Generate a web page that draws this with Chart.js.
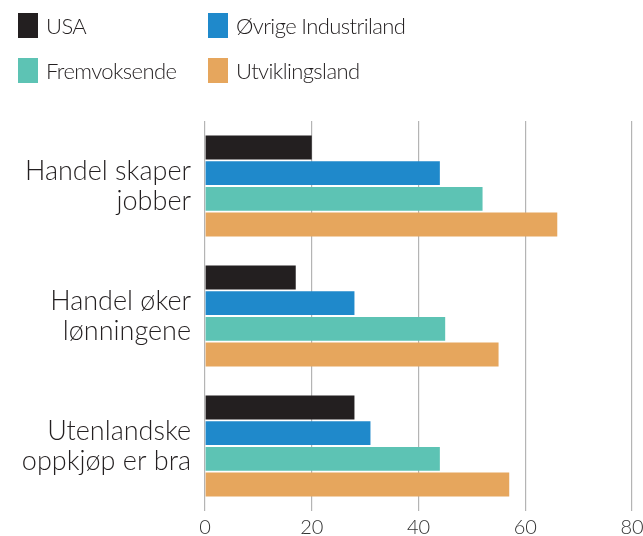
<!DOCTYPE html>
<html>
<head>
<meta charset="utf-8">
<script src="https://cdn.jsdelivr.net/npm/chart.js@4.4.0/dist/chart.umd.min.js"></script>
<style>
	body{margin:0;background:#fff;overflow:hidden;}
	.wrap{position:relative;width:643px;height:536px;}
	#chart{position:absolute;left:0;top:0;}
	.leg{position:absolute;font-family:Lato,"Noto Sans",sans-serif;font-weight:300;font-size:22px;letter-spacing:-0.6px;color:#231f20;line-height:25px;white-space:nowrap;}
	.leg span{display:inline-block;width:20px;height:25px;vertical-align:top;margin-right:8px;}
</style>
</head>
<body>
<div class="wrap">
	<canvas id="chart" width="643" height="536"></canvas>
	<div id="legend"></div>
</div>
<script>
var categories = [
	['Handel skaper', 'jobber'],
	['Handel øker', 'lønningene'],
	['Utenlandske', 'oppkjøp er bra']
];
var seriesNames = ['USA', 'Øvrige Industriland', 'Fremvoksende', 'Utviklingsland'];
var seriesColors = ['#231f20', '#1f89cb', '#5dc3b4', '#e6a65d'];
var usa = [20, 17, 28];
var ovrige = [44, 28, 31];
var fremvoksende = [52, 45, 44];
var utvikling = [66, 55, 57];
var xTicks = [0, 20, 40, 60, 80];

var values = [usa, ovrige, fremvoksende, utvikling];

// legend in two columns, html
var legPos = [[18, 13], [208, 13], [18, 58], [208, 58]];
var html = '';
for (var i = 0; i < seriesNames.length; i++) {
	html +=
	'<div class="leg" style="left:' + legPos[i][0] + 'px;top:' + legPos[i][1] + 'px;">' +
		'<span style="background:' + seriesColors[i] + ';"></span>' + seriesNames[i] +
	'</div>';
}
document.getElementById('legend').innerHTML = html;

var datasets = [];
for (var i = 0; i < seriesNames.length; i++) {
	datasets.push({
		label: seriesNames[i],
		data: values[i],
		backgroundColor: seriesColors[i],
		borderWidth: 0,
		categoryPercentage: 0.79,
		barPercentage: 0.93
	});
}

var ctx = document.getElementById('chart').getContext('2d');
window.myBar = new Chart(ctx, {
	type: 'bar',
	data: {
		labels: categories,
		datasets: datasets
	},
	options: {
		indexAxis: 'y',
		responsive: false,
		animation: false,
		layout: {
			padding: { top: 121, right: 11, bottom: 0, left: 0 }
		},
		plugins: {
			legend: { display: false },
			tooltip: { enabled: false }
		},
		scales: {
			x: {
				min: 0,
				max: 80,
				afterBuildTicks: function(s) {
					s.ticks = xTicks.map(function(v) { return { value: v }; });
				},
				afterFit: function(s) {
					s.height = 25;
					s.paddingLeft = 0;
					s.paddingRight = 0;
				},
				grid: { color: '#b4b4b4', lineWidth: 1.2, drawTicks: false },
				border: { display: false },
				ticks: {
					padding: 5,
					color: '#333',
					font: { family: 'Lato', size: 20, weight: '300' }
				}
			},
			y: {
				afterFit: function(s) {
					s.width = 205;
					s.paddingTop = 0;
					s.paddingBottom = 0;
				},
				grid: { display: false },
				border: { display: false },
				ticks: {
					padding: 6,
					color: '#231f20',
					font: { family: 'Lato', size: 27, weight: '300', lineHeight: 1.1 }
				}
			}
		}
	}
});
</script>
</body>
</html>
